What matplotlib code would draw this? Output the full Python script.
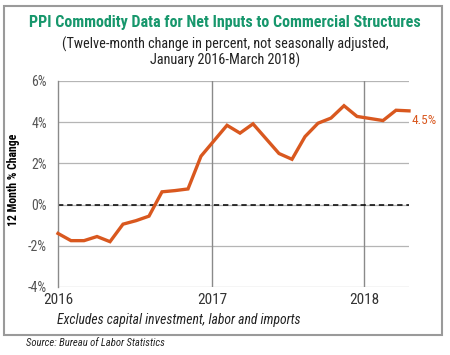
import numpy as np
import matplotlib
matplotlib.use("Agg")
import matplotlib.pyplot as plt
from matplotlib.patches import Rectangle

# monthly 12-month % change
change = [-1.4, -1.75, -1.75, -1.55, -1.8, -0.95, -0.78, -0.56, 0.62, 0.68,
          0.76, 2.35, 3.1, 3.85, 3.47, 3.92, 3.2, 2.48, 2.2, 3.3,
          3.95, 4.2, 4.8, 4.28, 4.18, 4.08, 4.58, 4.55]
months = np.arange(len(change))
year_labels = ["2016", "2017", "2018"]
year_pos = [0, 11.85, 23.55]
yticks = [-4, -2, 0, 2, 4, 6]
ytick_labels = ["-4%", "-2%", "0%", "2%", "4%", "6%"]
last_label = "4.5%"

narrow = ["Roboto Condensed", "Archivo Narrow", "Liberation Sans", "DejaVu Sans"]
orange = "#D9581F"
green = "#17976C"

fig = plt.figure(figsize=(4.5, 3.55), dpi=100)
fig.patches.append(Rectangle((4 / 450, 1 - 335 / 355), 438 / 450, 329 / 355,
                             transform=fig.transFigure, fill=False,
                             edgecolor="#9a9a9a", lw=1.5))

ax = fig.add_axes([58 / 450, 1 - 287 / 355, 351 / 450, 206 / 355])
ax.set_xlim(0, 27)
ax.set_ylim(-4, 6)

for y in yticks:
    ax.axhline(y, color="#b5b5b5", lw=0.9, zorder=1)
for x in year_pos[1:]:
    ax.axvline(x, color="#8a8a8a", lw=1.0, zorder=1)
ax.axhline(0, color="black", lw=1.1, ls=(0, (3.5, 2.5)), zorder=2)

ax.plot(months, change, color=orange, lw=2.4, solid_joinstyle="miter",
        zorder=3, clip_on=False)
ax.text(27.2, change[-1] - 0.45, last_label, color=orange, fontsize=9.5,
        family=narrow, va="center", ha="left")

for s in ["top", "right", "bottom"]:
    ax.spines[s].set_visible(False)
ax.spines["left"].set_color("#8a8a8a")
ax.spines["left"].set_linewidth(1.0)

ax.set_yticks(yticks)
ax.set_yticklabels(ytick_labels, family=narrow, fontsize=10, color="#555555")
ax.set_xticks(year_pos)
ax.set_xticklabels(year_labels, family=narrow, fontsize=11, color="#333333")
ax.tick_params(axis="both", length=0)
ax.tick_params(axis="y", pad=8)
ax.tick_params(axis="x", pad=4)

ax.set_ylabel("12 Month % Change", family=narrow, fontsize=8.5,
              fontweight="bold")
ax.yaxis.set_label_coords(-0.108, 0.52)

fig.text(0.5, 1 - 23 / 355, "PPI Commodity Data for Net Inputs to Commercial Structures",
         ha="center", va="center", color=green, fontsize=11.5,
         fontweight="bold", family=narrow)
fig.text(0.5, 1 - 44 / 355, "(Twelve-month change in percent, not seasonally adjusted,",
         ha="center", va="center", color="#222222", fontsize=10.3, family=narrow)
fig.text(0.5, 1 - 60 / 355, "January 2016-March 2018)",
         ha="center", va="center", color="#222222", fontsize=10.3, family=narrow)
fig.text(57 / 450, 1 - 320 / 355, "Excludes capital investment, labor and imports",
         ha="left", va="center", color="#222222", fontsize=9.8, style="italic",
         family=narrow)
fig.text(26 / 450, 1 - 343 / 355, "Source: Bureau of Labor Statistics",
         ha="left", va="center", color="#222222", fontsize=7.7, style="italic",
         family=narrow)

fig.savefig("out.png", dpi=100)
